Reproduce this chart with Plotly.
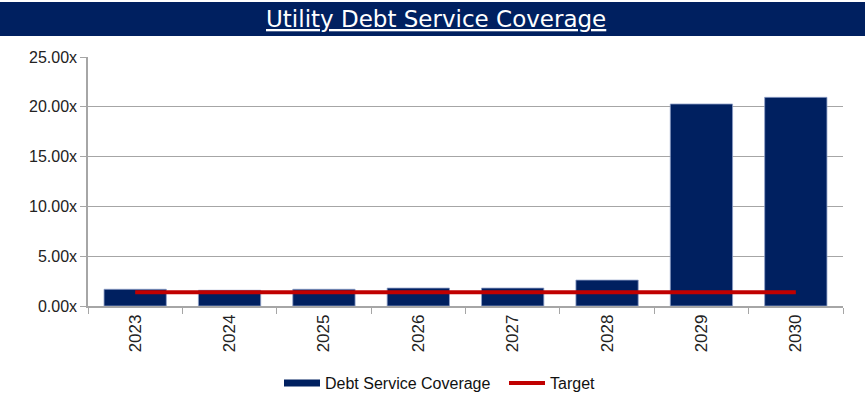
import plotly.graph_objects as go

# Coverage ratios by fiscal year
years = ["2023", "2024", "2025", "2026", "2027", "2028", "2029", "2030"]
coverage = [1.68, 1.58, 1.68, 1.80, 1.80, 2.60, 20.28, 20.95]
target = [1.38] * len(years)
y_ticks = [0, 5, 10, 15, 20, 25]
y_tick_labels = ["0.00x", "5.00x", "10.00x", "15.00x", "20.00x", "25.00x"]

NAVY = "#002060"
RED = "#C00000"
W, H = 867, 396
L, R, T, B = 88, 24, 57, 90
pw, ph = W - L - R, H - T - B


def px_x(x):
    return (x - L) / pw


def px_y(y):
    return (H - B - y) / ph


fig = go.Figure()
fig.add_trace(go.Bar(
    x=years, y=coverage, name="Debt Service Coverage",
    marker=dict(color=NAVY, line=dict(color="#8EA0C8", width=0.8)),
    legendgroup="dsc", showlegend=False,
))
# legend key drawn as a wide band for the bar series
fig.add_trace(go.Scatter(
    x=[None], y=[None], name="Debt Service Coverage", mode="lines",
    line=dict(color=NAVY, width=7), legendgroup="dsc",
))
fig.add_trace(go.Scatter(
    x=years, y=target, name="Target", mode="lines",
    line=dict(color=RED, width=4),
))

# header band
fig.add_shape(type="rect", xref="paper", yref="paper",
              x0=px_x(0), x1=px_x(865), y0=px_y(36), y1=px_y(2),
              fillcolor=NAVY, line=dict(width=0), layer="below")
fig.add_annotation(xref="paper", yref="paper", x=px_x(436), y=px_y(19),
                   text="<u>Utility Debt Service Coverage</u>", showarrow=False,
                   font=dict(family="DejaVu Sans, sans-serif",
                             size=23, color="white"),
                   xanchor="center", yanchor="middle")

fig.update_layout(
    width=W, height=H,
    margin=dict(l=L, r=R, t=T, b=B, autoexpand=False),
    paper_bgcolor="white", plot_bgcolor="white",
    bargap=0.34,
    font=dict(family="Liberation Sans", size=16, color="#222222"),
    showlegend=True,
    legend=dict(orientation="h", x=px_x(279), xanchor="left",
                y=px_y(383), yanchor="middle",
                font=dict(size=16, color="#111111"), itemwidth=36,
                entrywidth=174, entrywidthmode="pixels"),
    xaxis=dict(type="category", tickangle=-90, showline=True,
               linecolor="#A6A6A6", linewidth=1.5, ticks="outside",
               tickson="boundaries", ticklen=6, tickcolor="#A6A6A6",
               tickfont=dict(size=17), showgrid=False, automargin=False),
    yaxis=dict(range=[0, 25], tickvals=y_ticks, ticktext=y_tick_labels,
               showline=True, linecolor="#A6A6A6", linewidth=1.5,
               ticks="outside", ticklen=6, tickcolor="#A6A6A6",
               showgrid=True, gridcolor="#A6A6A6", gridwidth=1.2,
               zeroline=False, tickfont=dict(size=16), automargin=False),
)

fig.write_html("out.html")
